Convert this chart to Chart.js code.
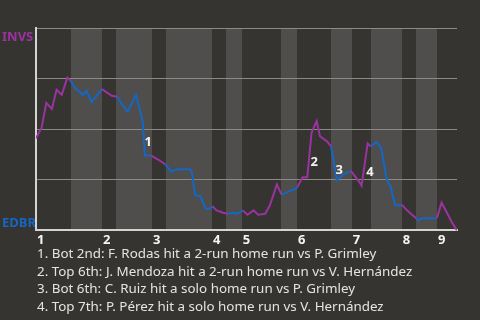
<!DOCTYPE html>
<html>
<head>
<meta charset="utf-8">
<script src="https://cdn.jsdelivr.net/npm/chart.js@4.4.0/dist/chart.umd.min.js"></script>
<style>
  html, body { margin: 0; padding: 0; background: #363430; width: 480px; height: 320px; overflow: hidden; }
  #wrap { position: absolute; left: 0; top: 0; width: 480px; height: 250px; }
  .notes { position: absolute; left: 37px; top: 245px; margin: 0; font: 13.4px 'Noto Sans', sans-serif; color: #e4e4e2; line-height: 17.6px; }
</style>
</head>
<body>
<div id="wrap"><canvas id="wp" width="480" height="250"></canvas></div>
<div class="notes" id="notes"></div>
<script>
// teams: top of the chart = visitors, bottom = home
const teams = ['INVS', 'EDBR']
const teamColors = ['#9a339f', '#1467c4']
const inningLabels = ['1', '2', '3', '4', '5', '6', '7', '8', '9']
// where each half inning starts, in plays
const halfStarts = [0, 7.5, 14.1, 17.1, 24.8, 27.8, 37.6, 40.6, 44.0, 52.4, 55.8, 63.1, 67.5, 71.6, 78.2, 81.2, 85.7]
const playCount = 90

const playX = [0, 1.2, 2.2, 3.4, 4.4, 5.5, 6.7, 7.4, 8.3, 10.0, 10.8, 11.9, 14.1, 16.2, 17.4, 18.3, 19.6, 21.4, 22.8, 23.3,
  24.6, 26.2, 27.6, 28.9, 29.7, 30.4, 32.9, 33.3, 34.0, 35.1, 36.3, 37.2, 37.7, 38.6, 40.0, 41.0, 42.2, 43.0, 43.6, 44.2,
  45.2, 46.5, 47.5, 49.0, 50.0, 51.5, 52.5, 55.6, 55.9, 57.0, 58.0, 58.9, 60.0, 60.7, 62.2, 63.1, 64.3, 65.7, 67.3, 69.1,
  69.6, 70.9, 71.6, 72.8, 73.8, 75.0, 75.7, 76.8, 77.8, 78.2, 79.3, 81.4, 81.7, 82.5, 85.7, 86.7, 87.8, 88.9, 90]
// INVS win probability (%)
const winPct = [45.5, 50.7, 63, 60, 69.5, 67, 75.5, 74, 70.5, 67, 69, 63.5, 69.8, 66.5, 66, 62.5, 58.7, 67, 54, 37,
  37, 34.9, 32.7, 29, 29.9, 30.2, 30.2, 29, 17.4, 17, 10.7, 10.7, 12, 9.9, 8.7, 8.2, 8.7, 8.2, 9, 9.9,
  7.7, 9.9, 7.7, 8.2, 12.4, 22.7, 17.7, 20.7, 21.5, 26.3, 26.3, 48.2, 54, 46.5, 44, 41.5, 24.9, 27.7, 29.4, 24,
  22, 42.9, 41.5, 43.7, 40.7, 24.9, 22.4, 12.4, 12.4, 12.7, 9.9, 5.7, 4.9, 6, 6, 13.7, 9, 4, 0]

const homeRuns = [
  '1. Bot 2nd: F. Rodas hit a 2-run home run vs P. Grimley',
  '2. Top 6th: J. Mendoza hit a 2-run home run vs V. Hernández',
  '3. Bot 6th: C. Ruiz hit a solo home run vs P. Grimley',
  '4. Top 7th: P. Pérez hit a solo home run vs V. Hernández',
]
const hrMarkX = [24.0, 59.5, 64.8, 71.4]
const hrMarkY = [43.5, 33.7, 29.7, 28.5]

document.getElementById('notes').innerHTML = homeRuns.join('<br>')

const inningStarts = halfStarts.filter((v, i) => i % 2 === 0)

const halfIndex = (x) => {
  let idx = 0
  halfStarts.forEach((s, i) => { if (x >= s) idx = i })
  return idx
}

///////////////////////////////////////////////
// half inning bands + team names + hr marks
///////////////////////////////////////////////
const gamePlugin = {
  id: 'game',
  beforeDraw(chart) {
    const { ctx, chartArea, scales } = chart
    ctx.save()
    ctx.fillStyle = '#363430'
    ctx.fillRect(0, 0, chart.width, chart.height)
    halfStarts.forEach((s, i) => {
      if (i % 2 === 0) return
      const end = i + 1 < halfStarts.length ? halfStarts[i + 1] : playCount
      const x0 = Math.round(scales.x.getPixelForValue(s))
      const x1 = Math.round(scales.x.getPixelForValue(end))
      ctx.fillStyle = '#4f4e4c'
      ctx.fillRect(x0, chartArea.top, x1 - x0, chartArea.bottom - chartArea.top)
    })
    ctx.font = 'bold 13px "Noto Sans", sans-serif'
    ctx.textAlign = 'left'
    ctx.textBaseline = 'alphabetic'
    ctx.fillStyle = teamColors[0]
    ctx.fillText(teams[0], 2, chartArea.top + 13)
    ctx.fillStyle = teamColors[1]
    ctx.fillText(teams[1], 2, chartArea.bottom - 3)
    ctx.restore()
  },
  afterDatasetsDraw(chart) {
    const { ctx, scales } = chart
    ctx.save()
    ctx.font = 'bold 13px "Noto Sans", sans-serif'
    ctx.textAlign = 'center'
    ctx.textBaseline = 'middle'
    ctx.fillStyle = '#f2f2f2'
    hrMarkX.forEach((x, i) => {
      ctx.fillText(String(i + 1), scales.x.getPixelForValue(x), scales.y.getPixelForValue(hrMarkY[i]))
    })
    ctx.restore()
  },
}

new Chart(document.getElementById('wp'), {
  type: 'line',
  data: {
    datasets: [
      {
        data: playX.map((x, i) => ({ x: x, y: winPct[i] })),
        borderColor: teamColors[0],
        borderWidth: 2,
        pointRadius: 0,
        tension: 0,
        segment: {
          borderColor: (c) => {
            const mid = (c.p0.parsed.x + c.p1.parsed.x) / 2
            return halfIndex(mid) % 2 ? teamColors[1] : teamColors[0]
          },
        },
      },
    ],
  },
  options: {
    responsive: false,
    animation: false,
    devicePixelRatio: 1,
    layout: { padding: { left: 36, right: 23, top: 28, bottom: 0 } },
    plugins: { legend: { display: false }, tooltip: { enabled: false } },
    scales: {
      x: {
        type: 'linear',
        min: 0,
        max: playCount,
        afterBuildTicks: (scale) => {
          scale.ticks = inningStarts.map((v) => ({ value: v }))
        },
        grid: { display: false, drawTicks: false },
        border: { display: true, color: '#d4d4d2', width: 2 },
        ticks: {
          autoSkip: false,
          maxRotation: 0,
          align: 'start',
          labelOffset: 1,
          padding: 2,
          color: '#f4f4f4',
          font: { family: '"Noto Sans", sans-serif', size: 13, weight: 'bold' },
          callback: (v, i) => inningLabels[i],
        },
      },
      y: {
        min: 0,
        max: 100,
        ticks: { display: false, stepSize: 25 },
        grid: { color: '#8b8a87', lineWidth: 1, drawTicks: false },
        border: { display: true, color: '#d4d4d2', width: 2 },
      },
    },
  },
  plugins: [gamePlugin],
})
</script>
</body>
</html>
